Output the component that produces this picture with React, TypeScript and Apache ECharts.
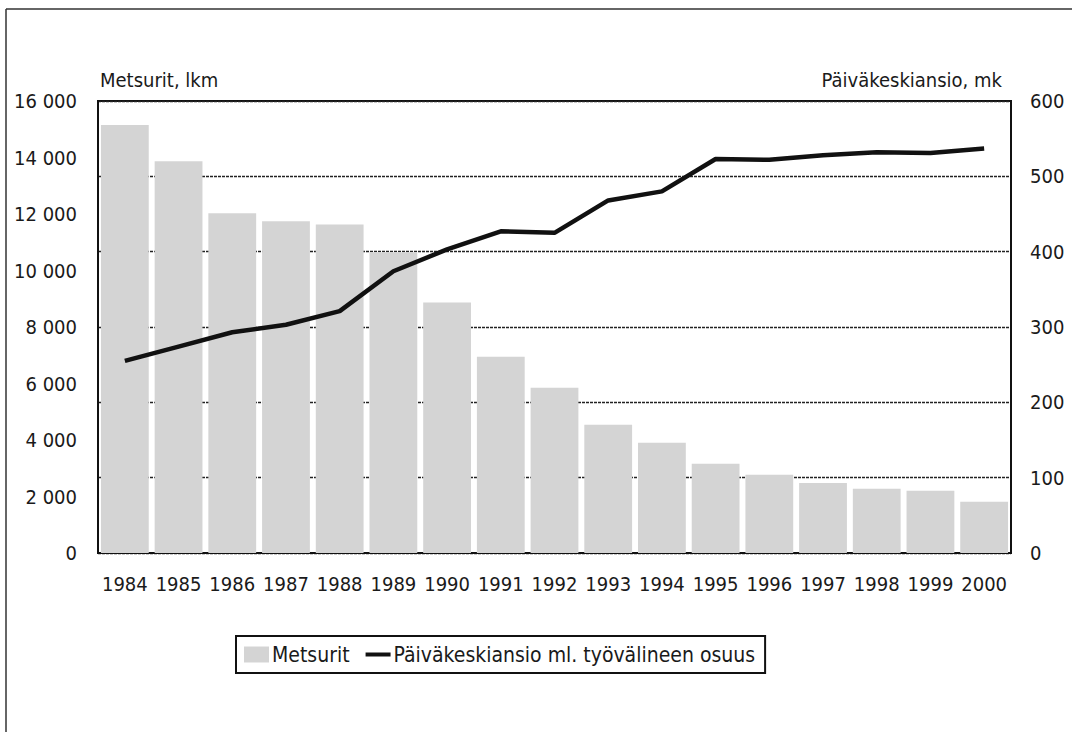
import React, { useEffect, useRef } from "react";
import * as echarts from "echarts";

const years = ["1984","1985","1986","1987","1988","1989","1990","1991","1992","1993","1994","1995","1996","1997","1998","1999","2000"];
const metsurit = [15150, 13870, 12030, 11740, 11630, 10650, 8870, 6950, 5850, 4540, 3900, 3160, 2770, 2480, 2270, 2200, 1810];
const palkka = [255, 274, 293, 303, 321, 374, 403, 427, 425, 468, 480, 523, 522, 528, 532, 531, 537];
const leftTitle = "Metsurit, lkm";
const rightTitle = "Päiväkeskiansio, mk";
const barName = "Metsurit";
const lineName = "Päiväkeskiansio ml. työvälineen osuus";

const FONT = "'Liberation Sans Narrow', 'DejaVu Sans Condensed', sans-serif";
const TXT = "#1a1a1a";

export default function App() {
  const ref = useRef<HTMLDivElement>(null);
  useEffect(() => {
    document.body.style.margin = "0";
    const chart = echarts.init(ref.current!, null, { renderer: "svg" });
    chart.setOption({
      animation: false,
      backgroundColor: "#ffffff",
      textStyle: { fontFamily: FONT, color: TXT },
      grid: {
        left: 98, right: 61, top: 101, bottom: 179,
        show: true, borderColor: "#111", borderWidth: 2, backgroundColor: "transparent",
      },
      legend: {
        left: 236, top: 636, width: 580, height: 39,
        padding: [8, 10, 8, 8],
        borderColor: "#111", borderWidth: 2,
        itemGap: 16, itemWidth: 25, itemHeight: 16,
        textStyle: { fontFamily: FONT, fontSize: 21, color: TXT, padding: [0, 0, 0, -2] },
        data: [
          { name: barName, icon: "rect" },
          { name: lineName, icon: "path://M0,0H25V4H0Z" },
        ],
      },
      graphic: [
        { type: "line", shape: { x1: 6, y1: 9, x2: 1072, y2: 9 }, style: { stroke: "#333", lineWidth: 1.5 } },
        { type: "line", shape: { x1: 6, y1: 9, x2: 6, y2: 732 }, style: { stroke: "#333", lineWidth: 1.5 } },
        { type: "text", left: 100, top: 70, style: { text: leftTitle, fontFamily: FONT, fontSize: 20, fill: TXT } },
        { type: "text", right: 70, top: 70, style: { text: rightTitle, fontFamily: FONT, fontSize: 20, fill: TXT } },
      ],
      xAxis: {
        type: "category",
        data: years,
        axisLine: { show: true, lineStyle: { color: "#111", width: 2 } },
        axisTick: { show: false },
        axisLabel: { fontFamily: FONT, fontSize: 20, color: TXT, margin: 21, interval: 0 },
      },
      yAxis: [
        {
          type: "value", min: 0, max: 16000, interval: 2000,
          axisLine: { show: true, lineStyle: { color: "#111", width: 2 } },
          axisTick: { show: false },
          splitLine: { show: false },
          axisLabel: {
            fontFamily: FONT, fontSize: 20, color: TXT, margin: 21,
            formatter: (v: number) => String(v).replace(/\B(?=(\d{3})+(?!\d))/g, " "),
          },
        },
        {
          type: "value", min: 0, max: 600, interval: 100, position: "right",
          axisLine: { show: true, lineStyle: { color: "#111", width: 2 } },
          axisTick: { show: false },
          splitLine: { show: true, lineStyle: { color: "#222", width: 1.3, type: [3, 1] } },
          axisLabel: { fontFamily: FONT, fontSize: 20, color: TXT, margin: 19 },
        },
      ],
      series: [
        {
          name: barName, type: "bar", data: metsurit, yAxisIndex: 0,
          barCategoryGap: "11%",
          itemStyle: { color: "#d4d4d4" },
        },
        {
          name: lineName, type: "line", data: palkka, yAxisIndex: 1,
          symbol: "none",
          lineStyle: { color: "#111", width: 4.5 },
          itemStyle: { color: "#111" },
        },
      ],
    });
    return () => chart.dispose();
  }, []);
  return <div ref={ref} style={{ width: 1072, height: 732 }} />;
}
